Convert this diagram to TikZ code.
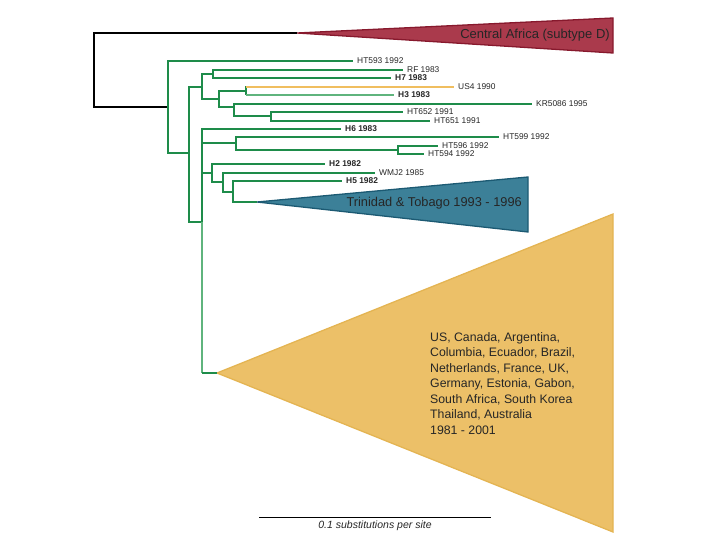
\documentclass[tikz,border=0pt]{standalone}
\usepackage{fontspec}
\setmainfont{Liberation Sans}
\usetikzlibrary{calc}

\definecolor{treegreen}{RGB}{30,140,74}
\definecolor{palegreen}{RGB}{95,180,125}
\definecolor{uslineorange}{RGB}{240,190,95}
\definecolor{cafred}{RGB}{170,58,76}
\definecolor{cafborder}{RGB}{135,25,45}
\definecolor{tttblue}{RGB}{60,128,152}
\definecolor{tttborder}{RGB}{28,90,115}
\definecolor{worldyellow}{RGB}{236,192,104}
\definecolor{worldborder}{RGB}{228,180,82}

\begin{document}
\begin{tikzpicture}[x=1pt, y=-1pt,
    rootline/.style={black, line width=2.4pt},
    branch/.style={treegreen, line width=1.7pt},
    paleBranch/.style={palegreen, line width=1.2pt},
    usBranch/.style={uslineorange, line width=1.7pt},
    leaf/.style={anchor=west, inner xsep=4pt, inner ysep=1pt, text=black!85,
        font=\fontsize{8.4}{9}\selectfont},
    boldleaf/.style={leaf, font=\fontsize{8.4}{9}\selectfont\bfseries},
    clade/.style={line width=1.3pt, line join=miter}]

    \useasboundingbox (0,0) rectangle (720,540);

    % internal nodes
    \coordinate (root) at (94, 70);
    \coordinate (R) at (168, 107);
    \coordinate (A) at (189, 153);
    \coordinate (C) at (202, 87);
    \coordinate (D) at (213, 74);
    \coordinate (E) at (219, 99);
    \coordinate (F) at (246, 91);
    \coordinate (G) at (234, 107);
    \coordinate (H) at (271, 116);
    \coordinate (B) at (202, 222);
    \coordinate (I) at (236, 143);
    \coordinate (K) at (398, 150);
    \coordinate (J) at (212, 173);
    \coordinate (L) at (223, 182);
    \coordinate (M) at (233, 192);

    % collapsed clades
    \coordinate (cafTip) at (297, 33);
    \coordinate (cafTop) at (613, 18);
    \coordinate (cafBot) at (613, 53);
    \coordinate (tttTip) at (257, 202);
    \coordinate (tttTop) at (528, 177);
    \coordinate (tttBot) at (528, 232);
    \coordinate (worldTip) at (217, 373);
    \coordinate (worldTop) at (613, 214);
    \coordinate (worldBot) at (613, 532);

    \filldraw[clade, fill=cafred, draw=cafborder] (cafTip) -- (cafTop) -- (cafBot) -- cycle;
    \filldraw[clade, fill=tttblue, draw=tttborder] (tttTip) -- (tttTop) -- (tttBot) -- cycle;
    \filldraw[clade, fill=worldyellow, draw=worldborder] (worldTip) -- (worldTop) -- (worldBot) -- cycle;

    \node[anchor=east, inner sep=1pt, text=black!85, font=\fontsize{13}{15}\selectfont]
        (caf) at (611, 35) {Central Africa (subtype D)};
    \node[anchor=east, inner sep=1pt, text=black!85, font=\fontsize{12.8}{15}\selectfont]
        (ttt) at (523, 203) {Trinidad \& Tobago 1993 - 1996};
    \node[anchor=north west, inner sep=0pt, align=left, text=black!85,
        font=\fontsize{12.3}{15.5}\selectfont] (world) at (430, 332)
        {US, Canada, Argentina,\\Columbia, Ecuador, Brazil,\\Netherlands, France, UK,\\Germany, Estonia, Gabon,\\South Africa, South Korea\\Thailand, Australia\\1981 - 2001};

    % leaves
    \node[leaf] (ht593) at (353, 61) {HT593 1992};
    \node[leaf] (rf) at (403, 70) {RF 1983};
    \node[boldleaf] (h7) at (391, 78) {H7 1983};
    \node[leaf] (us4) at (454, 87) {US4 1990};
    \node[boldleaf] (h3) at (394, 95) {H3 1983};
    \node[leaf] (kr) at (532, 104) {KR5086 1995};
    \node[leaf] (ht652) at (403, 112) {HT652 1991};
    \node[leaf] (ht651) at (430, 121) {HT651 1991};
    \node[boldleaf] (h6) at (341, 129) {H6 1983};
    \node[leaf] (ht599) at (499, 137) {HT599 1992};
    \node[leaf] (ht596) at (438, 146) {HT596 1992};
    \node[leaf] (ht594) at (424, 154) {HT594 1992};
    \node[boldleaf] (h2) at (325, 164) {H2 1982};
    \node[leaf] (wmj2) at (375, 173) {WMJ2 1985};
    \node[boldleaf] (h5) at (342, 181) {H5 1982};

    % root
    \draw[rootline] (root) |- (cafTip);
    \draw[rootline] (root) |- (R);

    % tree
    \draw[branch] (R) |- (ht593.west);
    \draw[branch] (R) |- (A);
    \draw[branch] (A) |- (C);
    \draw[branch] (A) |- (B);
    \draw[branch] (C) |- (D);
    \draw[branch] (C) |- (E);
    \draw[branch] (D) |- (rf.west);
    \draw[branch] (D) |- (h7.west);
    \draw[branch] (E) |- (F);
    \draw[branch] (E) |- (G);
    \draw[branch] (F) |- (us4.west);
    \draw[usBranch] (us4.west -| F) -- (us4.west);
    \draw[branch] (F) -- (h3.west -| F);
    \draw[paleBranch] (h3.west -| F) -- (h3.west);
    \draw[branch] (G) |- (kr.west);
    \draw[branch] (G) |- (H);
    \draw[branch] (H) |- (ht652.west);
    \draw[branch] (H) |- (ht651.west);
    \draw[branch] (B) |- (h6.west);
    \draw[branch] (B) |- (I);
    \draw[branch] (B) |- (J);
    \draw[paleBranch] (B) -- (worldTip -| B);
    \draw[branch] (worldTip -| B) -- (worldTip);
    \draw[branch] (I) |- (ht599.west);
    \draw[branch] (I) |- (K);
    \draw[branch] (K) |- (ht596.west);
    \draw[branch] (K) |- (ht594.west);
    \draw[branch] (J) |- (h2.west);
    \draw[branch] (J) |- (L);
    \draw[branch] (L) |- (wmj2.west);
    \draw[branch] (L) |- (M);
    \draw[branch] (M) |- (h5.west);
    \draw[branch] (M) |- (tttTip);

    % scale bar
    \coordinate (barL) at (259, 517);
    \coordinate (barR) at (491, 517);
    \draw[line width=0.9pt] (barL) -- (barR)
        node[midway, below=0.5pt, font=\fontsize{10.5}{12}\selectfont\itshape, text=black!85]
        (barText) {0.1 substitutions per site};

\end{tikzpicture}
\end{document}
